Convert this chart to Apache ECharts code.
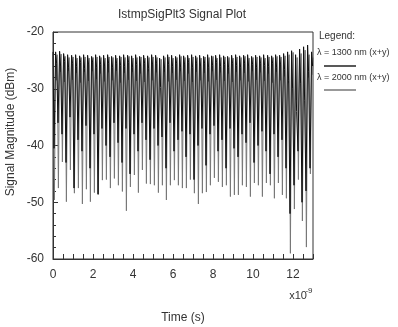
<!DOCTYPE html>
<html><head><meta charset="utf-8">
<script src="https://cdn.jsdelivr.net/npm/echarts@6/dist/echarts.min.js"></script>
<style>html,body{margin:0;padding:0;background:#fff}#c{width:398px;height:327px}</style>
</head><body><div id="c"></div>
<script>
// Sample grid (ns): spike k occurs at start + k*period
var cycleStart = 0.05, cyclePeriod = 0.2;
var xTicks = [0, 2, 4, 6, 8, 10, 12];
var yTicks = [-60, -50, -40, -30, -20];

var troughGray = [-49.6,-47.5,-42.9,-49.9,-44.3,-48.4,-47.5,-50.3,-47.7,-49.9,-48.3,-48.6,-46.1,-46.0,-47.5,-45.8,-47.0,-48.1,-51.5,-47.3,-45.2,-48.3,-44.3,-46.7,-46.8,-47.0,-48.3,-47.0,-49.6,-47.0,-46.1,-47.0,-47.5,-47.5,-46.0,-48.4,-50.3,-48.4,-48.2,-47.0,-45.7,-46.4,-47.3,-47.0,-49.0,-48.7,-48.7,-47.0,-47.3,-49.0,-46.6,-47.0,-49.0,-46.6,-47.0,-49.3,-46.6,-48.7,-49.3,-59.0,-51.2,-46.0,-53.3,-57.9,-45.0];
var troughBlack = [-40.5,-36,-38,-43,-35,-47.5,-39,-41,-36.5,-44,-38,-48.6,-37,-40,-42,-36,-39.5,-43,-37,-45,-38,-41,-36,-39,-42.5,-37,-40,-38.5,-44,-36,-41,-39,-37.5,-42,-38,-46,-40,-37,-43.5,-38,-36.5,-41,-39,-44,-37,-40.5,-42,-38,-39.5,-36,-43,-40,-37.5,-41,-45,-38,-42,-39,-44,-52,-47,-41,-50,-48,-44];
var peakBlack = [-23.5,-23.4,-23.8,-24.0,-24.1,-24.0,-24.2,-24.0,-24.1,-24.3,-24.0,-24.2,-24.1,-24.0,-24.3,-24.1,-24.2,-24.0,-24.1,-24.2,-24.0,-24.3,-24.1,-24.2,-24.0,-24.1,-24.6,-24.2,-24.0,-24.1,-24.3,-24.0,-24.2,-24.1,-24.0,-24.2,-24.1,-24.3,-24.0,-24.2,-24.1,-24.0,-24.2,-24.3,-24.1,-24.0,-24.2,-24.1,-24.0,-24.3,-24.1,-24.2,-24.0,-24.1,-24.2,-24.0,-24.1,-23.8,-23.5,-23.3,-24.0,-23.0,-22.6,-22.3,-23.5];
var peakGray = [-24.0,-23.9,-24.3,-24.5,-24.4,-24.6,-24.5,-24.4,-24.6,-24.5,-24.4,-24.5,-24.6,-24.4,-24.5,-24.6,-24.4,-24.5,-24.3,-24.6,-24.5,-24.4,-24.6,-24.5,-24.4,-24.5,-24.8,-24.5,-24.4,-24.6,-24.5,-24.3,-24.5,-24.6,-24.4,-24.5,-24.6,-24.4,-24.5,-24.3,-24.6,-24.5,-24.4,-24.5,-24.6,-24.4,-24.5,-24.3,-24.6,-24.5,-24.4,-24.5,-24.6,-24.4,-24.5,-24.3,-24.4,-24.2,-24.0,-23.6,-24.5,-23.8,-23.2,-24.0,-24.5];
var dipGray = [-28.5,-27.0,-28.8,-26.8,-28.4,-27.2,-28.9,-27.0,-28.6,-26.9,-28.3,-27.3,-28.7,-27.1,-28.5,-26.8,-28.9,-27.2,-28.4,-27.0,-28.6,-27.3,-28.8,-26.9,-28.5,-27.1,-29.5,-27.0,-28.7,-27.2,-28.4,-26.9,-28.6,-27.3,-28.8,-27.0,-28.5,-27.2,-28.7,-26.9,-28.4,-27.1,-28.6,-27.3,-28.8,-27.0,-28.5,-27.2,-28.7,-26.9,-28.4,-27.1,-28.6,-27.3,-28.9,-27.0,-28.5,-27.8,-29.0,-30.0,-32.0,-29.0,-31.0,-28.0,-27.5];
var shoulderBlack = [-25.5,-26.0,-25.2,-26.3,-25.6,-26.1,-25.4,-26.4,-25.8,-25.3,-26.2,-25.7,-26.0,-25.5,-26.3,-25.6,-25.9,-26.1,-25.4,-26.2,-25.7,-26.0,-25.5,-26.4,-25.8,-25.6,-29.8,-26.5,-25.7,-26.1,-25.5,-26.2,-25.8,-25.4,-26.3,-25.6,-26.0,-25.5,-26.2,-25.9,-25.4,-26.1,-25.7,-26.3,-25.6,-25.9,-26.2,-25.5,-26.0,-25.7,-26.3,-25.6,-25.9,-26.1,-25.5,-26.2,-25.8,-26.6,-28.5,-30.0,-34.0,-29.0,-32.0,-27.0,-26.0];

function buildGray() {
  var pts = [[0, peakGray[0]]];
  for (var k = 0; k < troughGray.length; k++) {
    var b = cycleStart + k * cyclePeriod + 0.02;
    pts.push([b, troughGray[k]]);
    pts.push([b + 0.06, peakGray[k]]);
    pts.push([b + 0.1, dipGray[k]]);
    pts.push([b + 0.14, peakGray[k]]);
  }
  return pts;
}
function buildBlack() {
  var pts = [[0, peakBlack[0]]];
  for (var k = 0; k < troughBlack.length; k++) {
    var b = cycleStart + k * cyclePeriod;
    pts.push([b, troughBlack[k]]);
    pts.push([b + 0.08, peakBlack[k]]);
    pts.push([b + 0.13, shoulderBlack[k]]);
  }
  return pts;
}

var font = '"Liberation Sans", Arial, sans-serif';
var chart = echarts.init(document.getElementById('c'));
chart.setOption({
  animation: false,
  backgroundColor: '#fff',
  grid: { left: 53, top: 32, right: 85, bottom: 68, show: true, borderColor: '#333', borderWidth: 1, backgroundColor: 'transparent' },
  xAxis: {
    type: 'value', min: 0, max: 13, interval: 1,
    axisLine: { lineStyle: { color: '#333' } },
    axisTick: { inside: true, length: 5, lineStyle: { color: '#333' } },
    minorTick: { show: true, splitNumber: 2, length: 5, lineStyle: { color: '#333' } },
    splitLine: { show: false },
    axisLabel: { margin: 10, fontSize: 12, color: '#333', fontFamily: font,
      formatter: function (v) { return xTicks.indexOf(v) >= 0 ? String(v) : ''; } }
  },
  yAxis: {
    type: 'value', min: -60, max: -20, interval: 10,
    axisLine: { show: true, lineStyle: { color: '#333' } },
    axisTick: { show: true, inside: true, length: 5, lineStyle: { color: '#333' } },
    minorTick: { show: true, splitNumber: 5, length: 3, lineStyle: { color: '#333' } },
    splitLine: { show: false },
    axisLabel: { margin: 9, fontSize: 12, color: '#333', fontFamily: font,
      formatter: function (v) { return yTicks.indexOf(v) >= 0 ? String(v) : ''; } }
  },
  series: [
    { name: 'λ = 2000 nm (x+y)', type: 'line', showSymbol: false, data: buildGray(),
      lineStyle: { color: '#777', width: 1 }, z: 2 },
    { name: 'λ = 1300 nm (x+y)', type: 'line', showSymbol: false, data: buildBlack(),
      lineStyle: { color: '#111', width: 1 }, z: 3 }
  ],
  graphic: [
    { type: 'text', left: 118, top: 9, style: { text: 'IstmpSigPlt3 Signal Plot', font: '12px ' + font, fill: '#333' } },
    { type: 'text', x: 11, y: 132, rotation: Math.PI / 2, style: { text: 'Signal Magnitude (dBm)', font: '12px ' + font, fill: '#333', align: 'center', verticalAlign: 'middle' } },
    { type: 'text', x: 298, y: 296, style: { text: 'x10', font: '11px ' + font, fill: '#333', align: 'center', verticalAlign: 'middle' } },
    { type: 'text', x: 309, y: 291, style: { text: '-9', font: '8px ' + font, fill: '#333', align: 'center', verticalAlign: 'middle' } },
    { type: 'text', x: 183, y: 318, style: { text: 'Time (s)', font: '12px ' + font, fill: '#333', align: 'center', verticalAlign: 'middle' } },
    { type: 'text', x: 319, y: 36, style: { text: 'Legend:', font: '10px ' + font, fill: '#333', verticalAlign: 'middle' } },
    { type: 'text', x: 317, y: 53, style: { text: 'λ = 1300 nm (x+y)', font: '9px ' + font, fill: '#333', verticalAlign: 'middle' } },
    { type: 'line', shape: { x1: 324, y1: 66, x2: 356, y2: 66 }, style: { stroke: '#222', lineWidth: 1.5 } },
    { type: 'text', x: 317, y: 78, style: { text: 'λ = 2000 nm (x+y)', font: '9px ' + font, fill: '#333', verticalAlign: 'middle' } },
    { type: 'line', shape: { x1: 324, y1: 90, x2: 356, y2: 90 }, style: { stroke: '#777', lineWidth: 1.5 } }
  ]
});
</script></body></html>
